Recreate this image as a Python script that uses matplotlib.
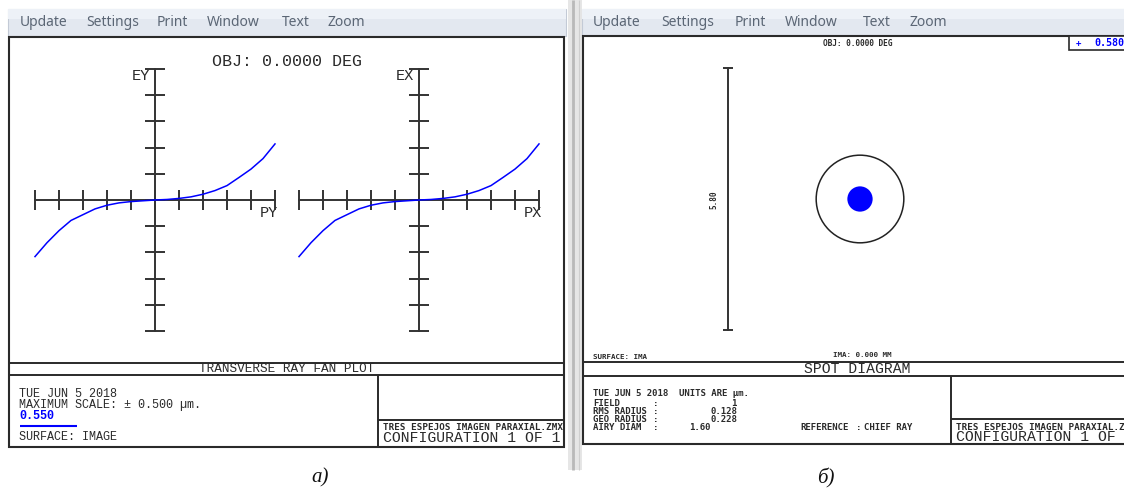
import numpy as np
import matplotlib
matplotlib.use("Agg")
import matplotlib.pyplot as plt
from matplotlib.patches import Rectangle, Circle

# ---------------- data ----------------
pupil_py = [-1.0, -0.9, -0.8, -0.7, -0.6, -0.5, -0.4, -0.3, -0.2, -0.1, 0.0,
            0.1, 0.2, 0.3, 0.4, 0.5, 0.6, 0.7, 0.8, 0.9, 1.0]
ey_um = [-0.216, -0.163, -0.117, -0.078, -0.056, -0.034, -0.020, -0.011, -0.006, -0.003, 0.0,
         0.002, 0.006, 0.012, 0.022, 0.036, 0.055, 0.086, 0.118, 0.158, 0.214]
pupil_px = [-1.0, -0.9, -0.8, -0.7, -0.6, -0.5, -0.4, -0.3, -0.2, -0.1, 0.0,
            0.1, 0.2, 0.3, 0.4, 0.5, 0.6, 0.7, 0.8, 0.9, 1.0]
ex_um = [-0.216, -0.163, -0.117, -0.078, -0.056, -0.034, -0.020, -0.011, -0.006, -0.003, 0.0,
         0.002, 0.006, 0.012, 0.022, 0.036, 0.055, 0.086, 0.118, 0.158, 0.214]
pupil_ticks = [-1.0, -0.8, -0.6, -0.4, -0.2, 0.0, 0.2, 0.4, 0.6, 0.8, 1.0]
max_scale_um = 0.500
aberr_ticks = [-0.5, -0.4, -0.3, -0.2, -0.1, 0.0, 0.1, 0.2, 0.3, 0.4, 0.5]

wavelength = "0.550"
spot_wavelength = "0.5800"
field_no = "1"
rms_radius = "0.128"
geo_radius = "0.228"
airy_diam = "1.60"
scale_bar_um = 5.80
airy_circle_r_um = 0.97      # drawn circle radius as seen in the picture
spot_blob_r_um = 0.28        # drawn spot blob radius as seen in the picture

menu_items = ["Update", "Settings", "Print", "Window", "Text", "Zoom"]

# ---------------- figure ----------------
W, H = 1124, 492
fig = plt.figure(figsize=(W / 100, H / 100), dpi=100)
fig.patch.set_facecolor("white")

bg = fig.add_axes([0, 0, 1, 1])
bg.set_xlim(0, W)
bg.set_ylim(H, 0)
bg.axis("off")

ZF = "Liberation Mono"        # wide plotter-like font
CF = "DejaVu Sans Mono"       # narrow bold font
INK = "#2a2a2a"
BLUE = "#0000ff"


def frac(x0, y0, x1, y1):
    return [x0 / W, 1 - y1 / H, (x1 - x0) / W, (y1 - y0) / H]


def hline(y, x0, x1, lw=1.4, c=INK):
    bg.plot([x0, x1], [y, y], color=c, lw=lw, solid_capstyle="butt")


def vline(x, y0, y1, lw=1.4, c=INK):
    bg.plot([x, x], [y0, y1], color=c, lw=lw, solid_capstyle="butt")


def menu(x_positions, y):
    for word, x in zip(menu_items, x_positions):
        bg.text(x, y, word, fontsize=10, family="Noto Sans", color="#5b6675",
                ha="left", va="center")


# ---- window chrome ----
bg.add_patch(Rectangle((8, 9), 558, 27, facecolor="#e3e8f0", edgecolor="#c3cad6", lw=0.8))
bg.add_patch(Rectangle((8, 9), 558, 10, facecolor="#edf1f7", edgecolor="none"))
menu([20, 86, 157, 207, 282, 327], 22)
bg.add_patch(Rectangle((568, 0), 14, 470, facecolor="#e6e6e6", edgecolor="none"))
vline(573, 0, 470, lw=2.0, c="#b9b9b9")
vline(579, 0, 470, lw=0.8, c="#cfcfcf")
bg.add_patch(Rectangle((582, 9), 560, 27, facecolor="#e3e8f0", edgecolor="#c3cad6", lw=0.8))
bg.add_patch(Rectangle((582, 9), 560, 10, facecolor="#edf1f7", edgecolor="none"))
menu([593, 661, 735, 785, 863, 909], 22)

# ---------------- left panel: transverse ray fan ----------------
bg.add_patch(Rectangle((9, 37), 555, 410, facecolor="white", edgecolor=INK, lw=1.5))
hline(363, 9, 564)
hline(375, 9, 564)
vline(378, 375, 447)
hline(420, 378, 564)

bg.text(287, 62, "OBJ: 0.0000 DEG", family=ZF, fontsize=12, color=INK, ha="center", va="center")


def fan_axes(x0, pupil, aberr, ylab, xlab):
    ax = fig.add_axes(frac(x0, 69, x0 + 240, 331))
    ax.set_xlim(-1, 1)
    ax.set_ylim(-max_scale_um, max_scale_um)
    ax.patch.set_alpha(0)
    for s in ("top", "right"):
        ax.spines[s].set_visible(False)
    for s in ("left", "bottom"):
        ax.spines[s].set_position("zero")
        ax.spines[s].set_color("#333333")
        ax.spines[s].set_linewidth(1.4)
    ax.set_xticks(pupil_ticks)
    ax.set_yticks(aberr_ticks)
    ax.set_xticklabels([])
    ax.set_yticklabels([])
    ax.tick_params(direction="inout", length=14, width=1.4, color="#333333")
    ax.plot(pupil, aberr, color=BLUE, lw=1.1, zorder=4, clip_on=False)
    cx = x0 + 120
    bg.text(cx - 5, 76, ylab, family=ZF, fontsize=11, color=INK, ha="right", va="center")
    bg.text(x0 + 234, 213, xlab, family=ZF, fontsize=11, color=INK, ha="center", va="center")
    return ax


fan_axes(35, pupil_py, ey_um, "EY", "PY")
fan_axes(299, pupil_px, ex_um, "EX", "PX")

bg.text(287, 369, "TRANSVERSE RAY FAN PLOT", family=ZF, fontsize=9.2, color=INK,
        ha="center", va="center")
bg.text(19, 394, "TUE JUN 5 2018", family=ZF, fontsize=8.5, color=INK, va="center")
bg.text(19, 405, "MAXIMUM SCALE: \u00b1 %.3f \u00b5m." % max_scale_um, family=ZF, fontsize=8.5,
        color=INK, va="center")
bg.text(19, 416, wavelength, family=ZF, fontsize=8.5, color=BLUE, va="center", weight="bold")
hline(426, 20, 77, lw=1.5, c=BLUE)
bg.text(19, 437, "SURFACE: IMAGE", family=ZF, fontsize=8.5, color=INK, va="center")
bg.text(383, 428, "TRES ESPEJOS IMAGEN PARAXIAL.ZMX", family=CF, fontsize=6.7, weight="bold",
        color=INK, va="center")
bg.text(383, 438, "CONFIGURATION 1 OF 1", family=ZF, fontsize=10.6, color=INK, va="center")

# ---------------- right panel: spot diagram ----------------
bg.add_patch(Rectangle((583, 36), 600, 408, facecolor="white", edgecolor=INK, lw=1.5,
                       clip_on=True))
hline(362, 583, W)
hline(376, 583, W)
vline(951, 376, 444)
hline(419, 951, W)

bg.text(858, 43, "OBJ: 0.0000 DEG", family=CF, fontsize=5.6, weight="bold", color=INK,
        ha="center", va="center")
bg.add_patch(Rectangle((1069, 36), 80, 14, facecolor="white", edgecolor=INK, lw=1.2))
bg.text(1078, 43, "+", family=CF, fontsize=6.5, weight="bold", color=BLUE, ha="center", va="center")
bg.text(1094, 43, spot_wavelength, family=CF, fontsize=7.2, weight="bold", color=BLUE,
        ha="left", va="center")

k = 262 / scale_bar_um          # pixels per micrometre
cx, cy = 860, 199
sx0, sx1, sy0, sy1 = 690, 1030, 55, 345
sp = fig.add_axes(frac(sx0, sy0, sx1, sy1))
sp.set_xlim((sx0 - cx) / k, (sx1 - cx) / k)
sp.set_ylim((cy - sy1) / k, (cy - sy0) / k)
sp.axis("off")
bar_x = (728 - cx) / k
sp.plot([bar_x, bar_x], [-scale_bar_um / 2, scale_bar_um / 2], color="#333333", lw=1.4)
sp.plot([bar_x, bar_x], [-scale_bar_um / 2, scale_bar_um / 2], ls="none", marker="_",
        ms=7, mew=1.4, color="#333333")
sp.add_patch(Circle((0, 0), airy_circle_r_um, fill=False, ec="#222222", lw=1.1))
sp.add_patch(Circle((0, 0), spot_blob_r_um, fc=BLUE, ec="none"))
bg.text(714, 200, "%.2f" % scale_bar_um, family=CF, fontsize=5.6, weight="bold", color=INK,
        rotation=90, ha="center", va="center")

bg.text(593, 357, "SURFACE: IMA", family=CF, fontsize=5.4, weight="bold", color=INK, va="center")
bg.text(862, 355, "IMA: 0.000 MM", family=CF, fontsize=5.4, weight="bold", color=INK,
        ha="center", va="center")
bg.text(857, 369, "SPOT DIAGRAM", family=ZF, fontsize=10.6, color=INK, ha="center", va="center")

small = dict(family=CF, fontsize=6.5, weight="bold", color=INK, va="center")
bg.text(593, 394, "TUE JUN 5 2018  UNITS ARE \u00b5m.", **small)
rows = [("FIELD", field_no, 737, 403),
        ("RMS RADIUS", rms_radius, 737, 411),
        ("GEO RADIUS", geo_radius, 737, 419),
        ("AIRY DIAM", airy_diam, 711, 428)]
for name, val, xr, y in rows:
    bg.text(593, y, name, **small)
    bg.text(653, y, ":", **small)
    bg.text(xr, y, val, ha="right", **small)
bg.text(800, 428, "REFERENCE", **small)
bg.text(856, 428, ":", **small)
bg.text(864, 428, "CHIEF RAY", **small)
bg.text(956, 427, "TRES ESPEJOS IMAGEN PARAXIAL.ZMX", family=CF, fontsize=6.7, weight="bold",
        color=INK, va="center")
bg.text(956, 437, "CONFIGURATION 1 OF 1", family=ZF, fontsize=10.6, color=INK, va="center")

bg.text(320, 478, "a)", family="Liberation Serif", style="italic", fontsize=15, color="#111111",
        ha="center", va="center")
bg.text(826, 478, "\u0431)", family="Liberation Serif", style="italic", fontsize=15,
        color="#111111", ha="center", va="center")

fig.savefig("out.png", dpi=100, facecolor="white")
